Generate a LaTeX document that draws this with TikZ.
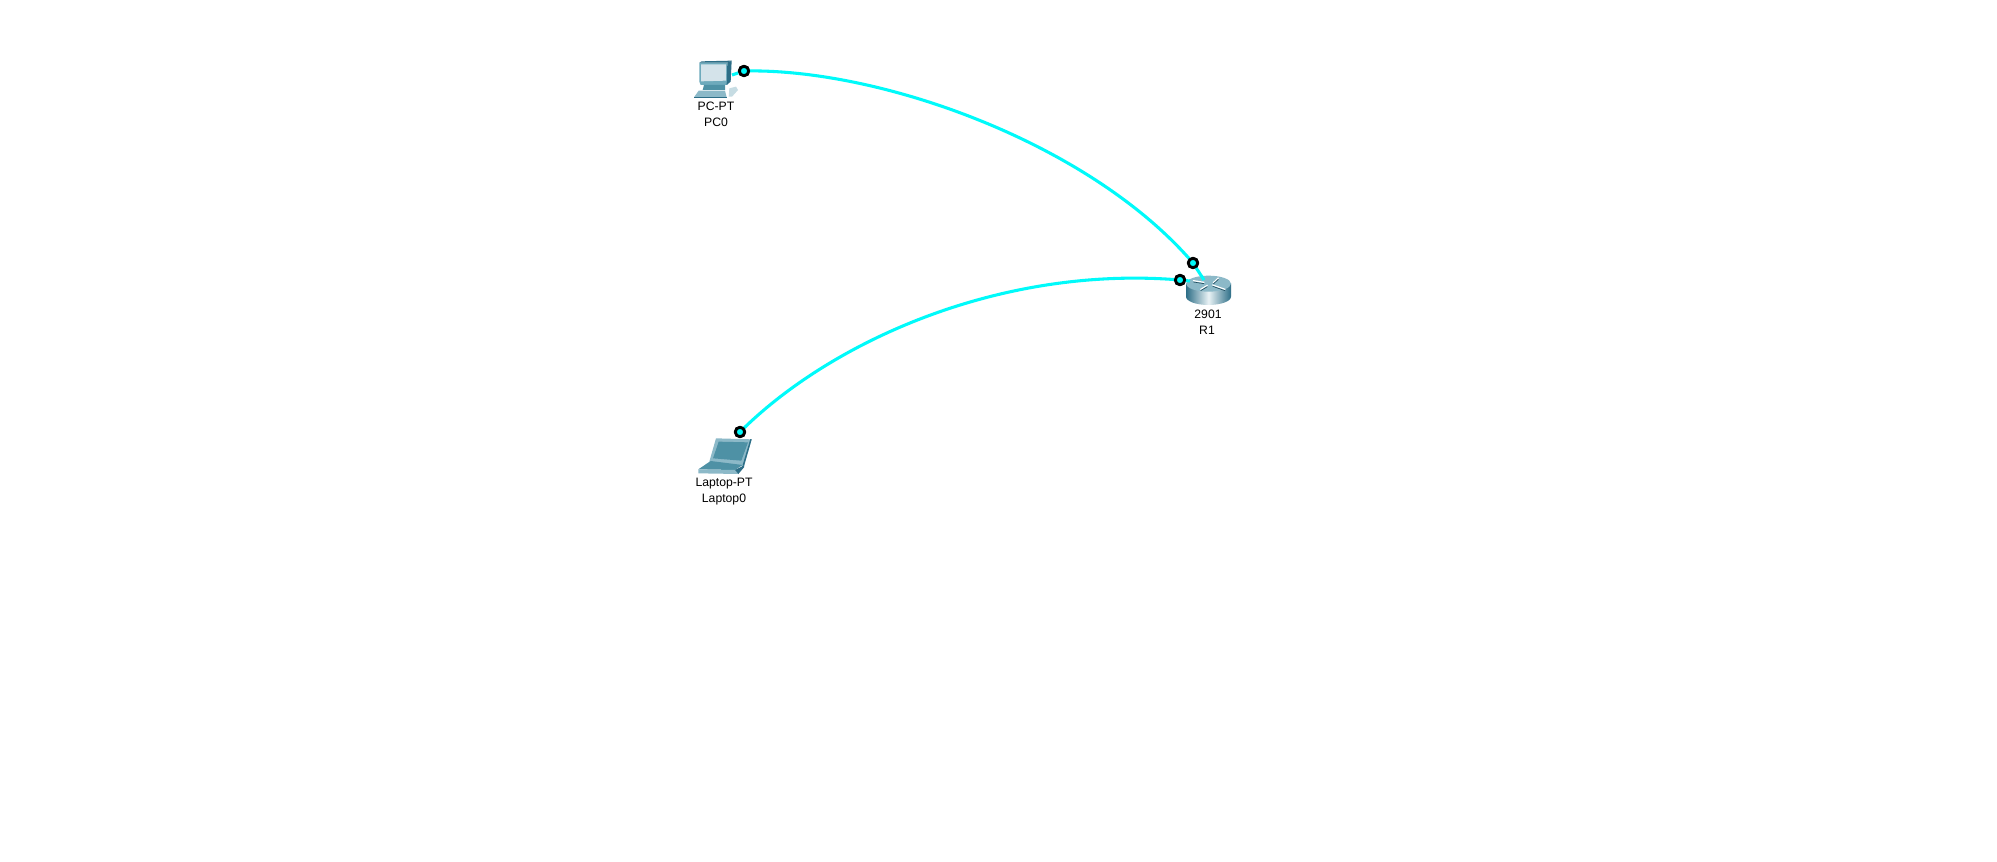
\documentclass[tikz,border=0pt]{standalone}
\usepackage{fontspec}
\setmainfont{Liberation Sans}
\definecolor{linkc}{RGB}{0,250,250}
\definecolor{tealA}{RGB}{110,170,188}
\definecolor{tealB}{RGB}{45,110,135}
\definecolor{tealC}{RGB}{140,185,200}
\definecolor{tealD}{RGB}{78,145,165}
\definecolor{scr}{RGB}{212,227,234}
\tikzset{
  linkline/.style={draw=linkc,line width=2.3pt},
  portdot/.style={circle,draw=black,line width=2.1pt,fill=linkc,minimum size=7pt,inner sep=0pt},
  devlabel/.style={font=\fontsize{9.15pt}{11pt}\selectfont,text=black,inner sep=0pt,anchor=center},
  iconscope/.style={x=0.25pt,y=-0.25pt}
}
\begin{document}
\begin{tikzpicture}[x=0.75pt,y=-0.75pt]
\useasboundingbox (0,0) rectangle (1997,862);
\fill[white] (0,0) rectangle (1997,862);

% anchors of links on devices
\coordinate (pcport) at (732,75);
\coordinate (lapport) at (747,425);
\coordinate (r1a) at (1204,280);
\coordinate (r1b) at (1190,281);

% PC icon
\begin{scope}[shift={(670,40)},iconscope]
  \fill[tealA] (88,68)--(172,68)--(172,135)--(92,135)--(88,125)--cycle;
  \fill[tealB] (88,68)--(95,64)--(185,62)--(172,68)--cycle;
  \fill[tealB] (172,68)--(185,62)--(182,125)--(170,135)--cycle;
  \fill[scr] (93,73)--(168,73)--(168,122)--(93,124)--cycle;
  \fill[tealD] (102,135)--(165,135)--(165,150)--(98,150)--cycle;
  \fill[tealC] (86,152)--(165,152)--(170,172)--(72,172)--cycle;
  \fill[tealB] (72,170)--(170,170)--(170,174)--(72,174)--cycle;
  \fill[tealC!50] (178,145)--(198,140)--(204,150)--(186,170)--(176,170)--cycle;
\end{scope}

% Laptop icon
\begin{scope}[shift={(670,410)},iconscope]
  \fill[tealC] (138,85)--(245,88)--(222,168)--(118,155)--cycle;
  \fill[tealD] (146,95)--(234,97)--(214,152)--(129,145)--cycle;
  \fill[tealD] (122,153)--(218,165)--(195,180)--(85,178)--cycle;
  \fill[tealB] (222,168)--(245,88)--(241,87)--(218,165)--cycle;
  \fill[tealC] (85,178)--(195,180)--(205,192)--(85,190)--cycle;
  \fill[tealB] (195,180)--(222,166)--(222,172)--(205,192)--cycle;
\end{scope}

% Router icon
\begin{scope}[shift={(1150,240)},iconscope]
  \shade[left color=tealB,right color=tealB,middle color=white!85!tealA]
    (108,130) -- (108,170) arc[x radius=67.5,y radius=25,start angle=180,end angle=0]
    -- (243,130) -- cycle;
  \fill[tealC] (175.5,131) ellipse[x radius=67.5,y radius=24];
  \draw[white,line width=0.9pt,line cap=round] (130,122)--(162,127);
  \draw[white,line width=0.9pt,line cap=round] (190,128)--(205,114);
  \draw[white,line width=0.9pt,line cap=round] (152,148)--(172,136);
  \draw[white,line width=0.9pt,line cap=round] (188,135)--(225,148);
  \draw[tealB!70!black,line width=0.5pt] (130,126)--(162,131) (190,132)--(205,118) (152,152)--(172,140) (188,139)--(225,152);
\end{scope}

% links
\node[portdot] (pcdot) at (744,71) {};
\node[portdot] (lapdot) at (740,432) {};
\node[portdot] (r1dota) at (1193,263) {};
\node[portdot] (r1dotb) at (1180,280) {};

\draw[linkline] (pcport) -- (pcdot);
\draw[linkline] (pcdot.center) .. controls (880,68) and (1090,143) .. (r1dota.center);
\draw[linkline] (r1dota.center) -- (r1a);
\draw[linkline] (lapdot.center) .. controls (830,342) and (1000,265) .. (r1dotb.center);
\draw[linkline] (r1dotb.center) -- (r1b);
\node[portdot] at (pcdot) {};
\node[portdot] at (lapdot) {};
\node[portdot] at (r1dota) {};
\node[portdot] at (r1dotb) {};

% labels
\node[devlabel] (pctype) at (716,106) {PC-PT};
\node[devlabel] (pcname) at (716,122) {PC0};
\node[devlabel] (laptype) at (724,484) {Laptop-PT};
\node[devlabel] (lapname) at (724,500) {Laptop0};
\node[devlabel] (rtype) at (1208,314) {2901};
\node[devlabel] (rname) at (1207,330) {R1};
\end{tikzpicture}
\end{document}
